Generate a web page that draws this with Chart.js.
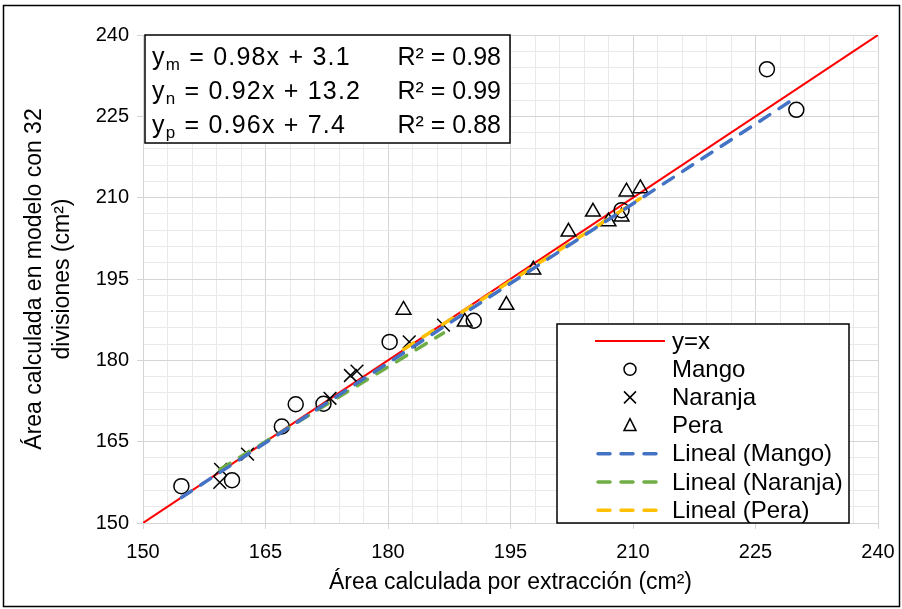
<!DOCTYPE html>
<html>
<head>
<meta charset="utf-8">
<script src="https://cdn.jsdelivr.net/npm/chart.js@4.4.1/dist/chart.umd.min.js"></script>
<style>
  body { margin: 0; background: #fff; }
  canvas { display: block; }
</style>
</head>
<body>
<canvas id="areaChart" width="902" height="609"></canvas>
<script>
// Área por extracción (x) frente a área del modelo de 32 divisiones (y)
const mangoX   = [154.7, 160.9, 167.0, 168.7, 172.1, 180.2, 190.5, 208.6, 226.4, 230.0];
const mangoY   = [156.8, 157.9, 167.8, 171.9, 172.0, 183.4, 187.3, 207.7, 233.7, 226.2];
const naranjaX = [159.4, 159.5, 162.8, 172.9, 175.4, 176.2, 182.6, 186.8];
const naranjaY = [157.5, 159.9, 162.7, 173.0, 177.2, 178.0, 183.4, 186.5];
const peraX    = [181.9, 189.4, 194.5, 197.8, 202.1, 205.1, 207.0, 208.6, 209.2, 210.9];
const peraY    = [189.3, 187.1, 190.2, 196.7, 203.7, 207.4, 205.6, 206.5, 211.1, 211.7];

// ajustes lineales (y = a·x + b) y sus R²
const fitNames  = ['m', 'n', 'p'];
const fitSlope  = [0.98, 0.92, 0.96];
const fitOffset = [3.1, 13.2, 7.4];
const fitR2     = [0.98, 0.99, 0.88];

const AXIS_MIN = 150, AXIS_MAX = 240, MAJOR = 15, MINOR = 3;
const FONT = '"Liberation Sans", Arial, sans-serif';

const toPoints = (xs, ys) => xs.map((x, i) => ({ x: x, y: ys[i] }));

function trendPoints(xs, k) {
    const lo = Math.min(...xs), hi = Math.max(...xs);
    return [lo, hi].map(x => ({ x: x, y: fitSlope[k] * x + fitOffset[k] }));
}

const trendStyle = color => ({
    type: 'line', showLine: true, borderColor: color, borderWidth: 3.5,
    borderDash: [12, 11], borderCapStyle: 'round', pointRadius: 0, fill: false, order: 1
});

const markerStyle = (style, r) => ({
    pointStyle: style, pointRadius: r, pointHoverRadius: r, borderColor: '#000',
    backgroundColor: 'rgba(0,0,0,0)', pointBorderWidth: 1.5, borderWidth: 1.5, order: 5
});

const datasets = [
    { label: 'y=x', type: 'line', showLine: true, data: [{ x: AXIS_MIN, y: AXIS_MIN }, { x: AXIS_MAX, y: AXIS_MAX }],
      borderColor: '#ff0000', borderWidth: 2, pointRadius: 0, order: 10, legendKind: 'line' },
    Object.assign({ label: 'Mango', data: toPoints(mangoX, mangoY), legendKind: 'circle' }, markerStyle('circle', 7.5)),
    Object.assign({ label: 'Naranja', data: toPoints(naranjaX, naranjaY), legendKind: 'cross' }, markerStyle('crossRot', 9)),
    Object.assign({ label: 'Pera', data: toPoints(peraX, peraY), legendKind: 'triangle' }, markerStyle('triangle', 8.5)),
    Object.assign({ label: 'Lineal (Mango)', data: trendPoints(mangoX, 0), legendKind: 'dash' }, trendStyle('#4472c4')),
    Object.assign({ label: 'Lineal (Naranja)', data: trendPoints(naranjaX, 1), legendKind: 'dash' }, trendStyle('#70ad47')),
    Object.assign({ label: 'Lineal (Pera)', data: trendPoints(peraX, 2), legendKind: 'dash' }, trendStyle('#ffc000'))
];

const isMajor = ctx => ctx.tick && Math.round(ctx.tick.value) % MAJOR === 0;

function axis(extra, pad) {
    return Object.assign({
        type: 'linear', min: AXIS_MIN, max: AXIS_MAX,
        ticks: {
            stepSize: MINOR, autoSkip: false, maxRotation: 0, padding: pad,
            callback: v => (Math.round(v) % MAJOR === 0 ? v : ''),
            font: { family: FONT, size: 20 }, color: '#000'
        },
        grid: {
            color: ctx => (isMajor(ctx) ? '#d4d4d4' : '#e9e9e9'),
            tickColor: ctx => (isMajor(ctx) ? '#d4d4d4' : 'rgba(0,0,0,0)'),
            tickLength: 6, lineWidth: 1
        },
        border: { color: '#d4d4d4' }
    }, extra);
}

// recuadro con las ecuaciones de ajuste
const equationBox = {
    id: 'equationBox',
    afterDraw(chart) {
        const { ctx, chartArea } = chart;
        const left = chartArea.left + 2, top = chartArea.top, w = 365, h = 108;
        ctx.save();
        ctx.fillStyle = '#fff';
        ctx.fillRect(left, top, w, h);
        ctx.strokeStyle = '#000';
        ctx.lineWidth = 1.5;
        ctx.strokeRect(left, top, w, h);
        ctx.fillStyle = '#000';
        ctx.textBaseline = 'alphabetic';
        fitNames.forEach((name, k) => {
            const base = top + 30 + k * 34;
            let x = left + 7;
            ctx.letterSpacing = '1.2px';
            ctx.font = '25px ' + FONT;
            ctx.textAlign = 'left';
            ctx.fillText('y', x, base);
            x += ctx.measureText('y').width;
            ctx.font = '17px ' + FONT;
            ctx.fillText(name, x, base + 5);
            x += ctx.measureText(name).width;
            ctx.font = '25px ' + FONT;
            ctx.fillText(' = ' + fitSlope[k].toFixed(2) + 'x + ' + fitOffset[k].toFixed(1), x, base);
            ctx.letterSpacing = '0px';
            ctx.textAlign = 'right';
            ctx.fillText('R² = ' + fitR2[k].toFixed(2), left + w - 9, base);
        });
        ctx.restore();
    }
};

// leyenda dentro del área de trazado, abajo a la derecha
const boxLegend = {
    id: 'boxLegend',
    afterDraw(chart) {
        const { ctx, chartArea } = chart;
        const right = chartArea.right - 29, bottom = chartArea.bottom;
        const left = right - 292, top = bottom - 199;
        const rowH = 28.2, lineX0 = left + 38, lineX1 = left + 108, textX = left + 115;
        const midX = (lineX0 + lineX1) / 2;
        ctx.save();
        ctx.fillStyle = '#fff';
        ctx.fillRect(left, top, right - left, bottom - top);
        ctx.strokeStyle = '#000';
        ctx.lineWidth = 1.5;
        ctx.strokeRect(left, top, right - left, bottom - top);
        ctx.font = '24px ' + FONT;
        ctx.textBaseline = 'middle';
        ctx.textAlign = 'left';
        chart.data.datasets.forEach((ds, i) => {
            const y = top + 17 + i * rowH;
            ctx.save();
            ctx.strokeStyle = ds.borderColor;
            ctx.lineWidth = ds.borderWidth;
            if (ds.legendKind === 'line' || ds.legendKind === 'dash') {
                ctx.setLineDash(ds.borderDash || []);
                ctx.lineCap = ds.borderCapStyle || 'butt';
                ctx.beginPath();
                ctx.moveTo(lineX0 + (ds.borderDash ? 3 : 0), y);
                ctx.lineTo(lineX1, y);
                ctx.stroke();
            } else {
                const r = 6;
                ctx.lineWidth = 1.5;
                ctx.beginPath();
                if (ds.legendKind === 'circle') {
                    ctx.arc(midX, y, r, 0, Math.PI * 2);
                } else if (ds.legendKind === 'cross') {
                    ctx.moveTo(midX - r, y - r); ctx.lineTo(midX + r, y + r);
                    ctx.moveTo(midX + r, y - r); ctx.lineTo(midX - r, y + r);
                } else {
                    ctx.moveTo(midX, y - r - 1); ctx.lineTo(midX + r, y + r - 1);
                    ctx.lineTo(midX - r, y + r - 1); ctx.closePath();
                }
                ctx.stroke();
            }
            ctx.restore();
            ctx.fillStyle = '#000';
            ctx.fillText(ds.label, textX, y + 1);
        });
        ctx.restore();
    }
};

// marco exterior
const outerFrame = {
    id: 'outerFrame',
    beforeDraw(chart) {
        const { ctx, width, height } = chart;
        ctx.save();
        ctx.fillStyle = '#fff';
        ctx.fillRect(0, 0, width, height);
        ctx.strokeStyle = '#000';
        ctx.lineWidth = 1.5;
        ctx.strokeRect(3.5, 5.5, width - 6, height - 8);
        ctx.restore();
    }
};

new Chart(document.getElementById('areaChart'), {
    type: 'scatter',
    data: { datasets: datasets },
    options: {
        responsive: false,
        animation: false,
        layout: { padding: { left: 0, right: 24, top: 35, bottom: 0 } },
        plugins: { legend: { display: false }, tooltip: { enabled: false } },
        scales: {
            x: axis({
                position: 'bottom',
                title: {
                    display: true, text: 'Área calculada por extracción (cm²)', color: '#000',
                    font: { family: FONT, size: 23, lineHeight: 1.2 }, padding: { top: 0, bottom: 13 }
                },
                afterFit: s => { s.height = 86; s.paddingLeft = 0; s.paddingRight = 0; }
            }, 11),
            y: axis({
                position: 'left',
                title: {
                    display: true, text: ['Área calculada en modelo con 32', 'divisiones (cm²)'], color: '#000',
                    font: { family: FONT, size: 23, lineHeight: 1.2 }, padding: { top: 21, bottom: 0 }
                },
                afterFit: s => { s.width = 143; s.paddingTop = 0; s.paddingBottom = 0; }
            }, 8)
        }
    },
    plugins: [outerFrame, equationBox, boxLegend]
});
</script>
</body>
</html>
